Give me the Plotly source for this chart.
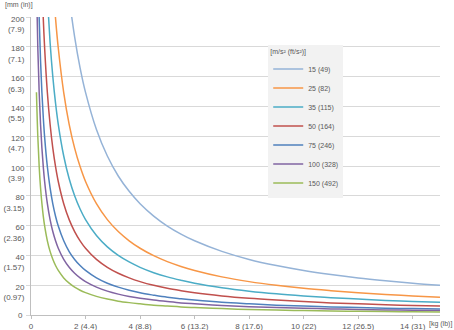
import plotly.graph_objects as go

# mass axis values [kg]
mass = [0.2, 0.25, 0.3, 0.35, 0.4, 0.45, 0.5, 0.6, 0.7, 0.8, 0.9, 1.0,
        1.2, 1.4, 1.6, 1.8, 2.0, 2.4, 2.8, 3.2, 3.6, 4.0, 4.5, 5.0, 5.5, 6,
        7, 8, 9, 10, 11, 12, 13, 14, 15]

# deflection [mm], one list per acceleration level
acc_15 = [None] * 10 + [331.9, 298.7, 248.9, 213.4, 186.7, 165.9, 149.4, 124.5, 106.7, 93.3, 83.0,
                        74.7, 66.4, 59.7, 54.3, 49.8, 42.7, 37.3, 33.2, 29.9, 27.2, 24.9, 23.0,
                        21.3, 19.9]
acc_25 = [None] * 7 + [298.7, 256.0, 224.0, 199.1, 179.2, 149.3, 128.0, 112.0, 99.6, 89.6, 74.7,
                       64.0, 56.0, 49.8, 44.8, 39.8, 35.8, 32.6, 29.9, 25.6, 22.4, 19.9, 17.9,
                       16.3, 14.9, 13.8, 12.8, 11.9]
acc_35 = [None] * 5 + [284.4, 256.0, 213.3, 182.9, 160.0, 142.2, 128.0, 106.7, 91.4, 80.0, 71.1,
                       64.0, 53.3, 45.7, 40.0, 35.6, 32.0, 28.4, 25.6, 23.3, 21.3, 18.3, 16.0,
                       14.2, 12.8, 11.6, 10.7, 9.8, 9.1, 8.5]
acc_50 = [None] * 2 + [298.7, 256.0, 224.0, 199.1, 179.2, 149.3, 128.0, 112.0, 99.6, 89.6, 74.7,
                       64.0, 56.0, 49.8, 44.8, 37.3, 32.0, 28.0, 24.9, 22.4, 19.9, 17.9, 16.3,
                       14.9, 12.8, 11.2, 10.0, 9.0, 8.1, 7.5, 6.9, 6.4, 6.0]
acc_75 = [298.5, 238.8, 199.0, 170.6, 149.3, 132.7, 119.4, 99.5, 85.3, 74.6, 66.3, 59.7, 49.8,
          42.6, 37.3, 33.2, 29.9, 24.9, 21.3, 18.7, 16.6, 14.9, 13.3, 11.9, 10.9, 10.0, 8.5,
          7.5, 6.6, 6.0, 5.4, 5.0, 4.6, 4.3, 4.0]
acc_100 = [224.0, 179.2, 149.3, 128.0, 112.0, 99.6, 89.6, 74.7, 64.0, 56.0, 49.8, 44.8, 37.3,
           32.0, 28.0, 24.9, 22.4, 18.7, 16.0, 14.0, 12.4, 11.2, 10.0, 9.0, 8.1, 7.5, 6.4,
           5.6, 5.0, 4.5, 4.1, 3.7, 3.4, 3.2, 3.0]
acc_150 = [149.5, 119.6, 99.7, 85.4, 74.8, 66.4, 59.8, 49.8, 42.7, 37.4, 33.2, 29.9, 24.9,
           21.4, 18.7, 16.6, 15.0, 12.5, 10.7, 9.3, 8.3, 7.5, 6.6, 6.0, 5.4, 5.0, 4.3,
           3.7, 3.3, 3.0, 2.7, 2.5, 2.3, 2.1, 2.0]

series_names = ["15 (49)", "25 (82)", "35 (115)", "50 (164)", "75 (246)", "100 (328)", "150 (492)"]
series_values = [acc_15, acc_25, acc_35, acc_50, acc_75, acc_100, acc_150]
colors = ["#95B3D7", "#F79646", "#4BACC6", "#C0504D", "#4F81BD", "#8064A2", "#9BBB59"]

x_tickvals = [0, 2, 4, 6, 8, 10, 12, 14]
x_ticktext = ["0", "2 (4.4)", "4 (8.8)", "6 (13.2)", "8 (17.6)", "10 (22)", "12 (26.5)", "14 (31)"]
y_tickvals = [0, 20, 40, 60, 80, 100, 120, 140, 160, 180, 200]
y_ticktext = ["", "20<br>(0.97)", "40<br>(1.57)", "60<br>(2.36)", "80<br>(3.15)",
              "100<br>(3.9)", "120<br>(4.7)", "140<br>(5.5)", "160<br>(6.3)", "180<br>(7.1)",
              "200<br>(7.9)"]
y_zero_label = "0"

FONT = "Liberation Sans, Arial, sans-serif"
TXT = "#595959"

fig = go.Figure()
for name, vals, col in zip(series_names, series_values, colors):
    fig.add_trace(go.Scatter(
        x=mass, y=vals, name=name, mode="lines",
        line=dict(color=col, width=1.5, shape="spline", smoothing=1),
        connectgaps=False,
    ))

fig.update_layout(
    width=454, height=330,
    margin=dict(l=31, r=14, t=17, b=15, autoexpand=False),
    paper_bgcolor="white", plot_bgcolor="white",
    font=dict(family=FONT, size=8, color=TXT),
    showlegend=True,
    legend=dict(
        x=0.58, y=0.905, xanchor="left", yanchor="top",
        bgcolor="#f2f2f2", borderwidth=0,
        font=dict(family=FONT, size=7, color=TXT),
        title=dict(text="[m/s² (ft/s²)]", font=dict(family=FONT, size=7, color=TXT)),
        itemwidth=30,
    ),
    xaxis=dict(
        range=[0, 15], tickvals=x_tickvals, ticktext=x_ticktext,
        showgrid=False, zeroline=False, automargin=False,
        showline=True, linecolor="#bfbfbf", linewidth=1,
        ticks="outside", ticklen=3, tickcolor="#bfbfbf",
        tickfont=dict(family=FONT, size=8, color=TXT),
        fixedrange=True,
    ),
    yaxis=dict(
        range=[0, 200], tickvals=y_tickvals, ticktext=y_ticktext,
        showgrid=True, gridcolor="#d9d9d9", gridwidth=1, zeroline=False, automargin=False,
        showline=True, linecolor="#bfbfbf", linewidth=1,
        ticks="outside", ticklen=4, tickcolor="#d9d9d9",
        tickfont=dict(family=FONT, size=8, color=TXT),
        ticklabelshift=7,
        fixedrange=True,
    ),
)

fig.add_annotation(text=y_zero_label, xref="paper", yref="y", x=0, y=0,
                   xanchor="right", yanchor="middle", xshift=-6, showarrow=False,
                   font=dict(family=FONT, size=8, color=TXT))
fig.add_annotation(text="[mm (in)]", xref="paper", yref="paper", x=-0.068, y=1.04,
                   xanchor="left", yanchor="middle", showarrow=False,
                   font=dict(family=FONT, size=7, color=TXT))
fig.add_annotation(text="[kg (lb)]", xref="paper", yref="paper", x=1.0, y=0,
                   xanchor="center", yanchor="top", yshift=-3, showarrow=False,
                   font=dict(family=FONT, size=7, color=TXT))

fig.write_html("out.html")
